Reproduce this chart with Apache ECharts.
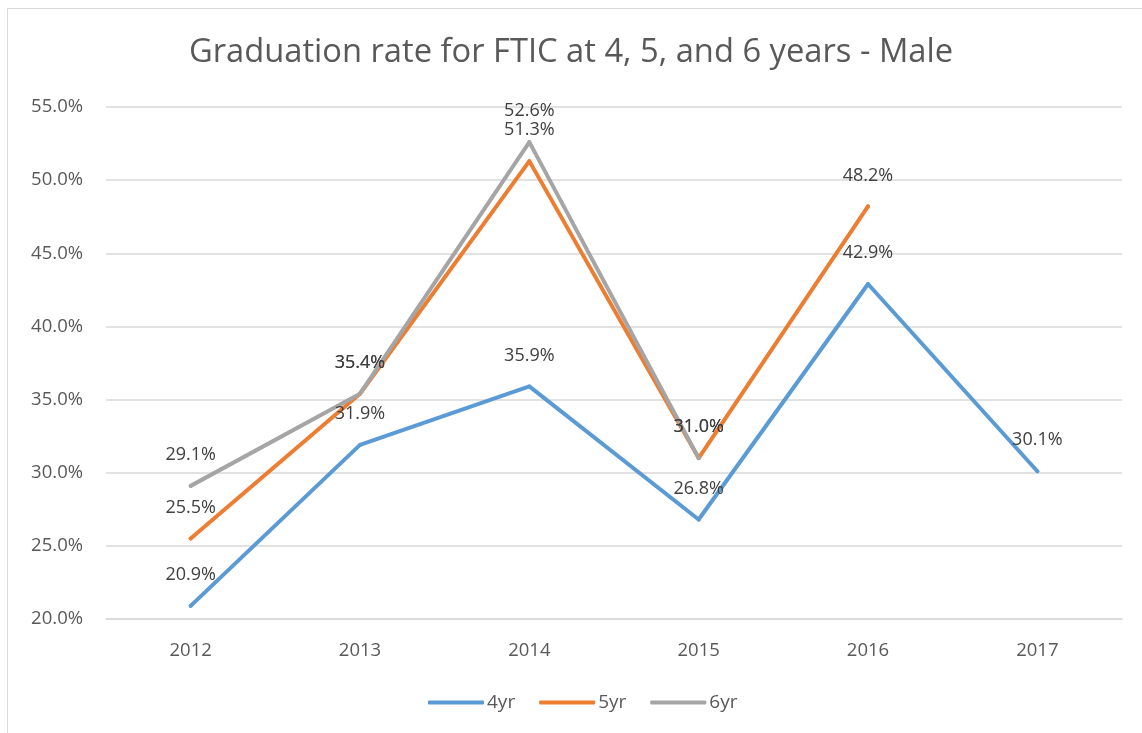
<!DOCTYPE html>
<html><head><meta charset="utf-8">
<script src="https://cdn.jsdelivr.net/npm/echarts@6/dist/echarts.min.js"></script>
<style>
html,body{margin:0;padding:0;background:#fff;}
#frame{position:absolute;left:7px;top:8px;width:1200px;height:800px;border:1px solid #d9d9d9;box-sizing:border-box;}
#c{position:absolute;left:0;top:0;width:1142px;height:733px;}
</style></head>
<body>
<div id="frame"></div>
<div id="c"></div>
<script>
const titleText = 'Graduation rate for FTIC at 4, 5, and 6 years - Male';
const categories = ['2012','2013','2014','2015','2016','2017'];
const seriesNames = ['4yr','5yr','6yr'];
const rate4yr = [20.9, 31.9, 35.9, 26.8, 42.9, 30.1];
const rate5yr = [25.5, 35.4, 51.3, 31.0, 48.2, null];
const rate6yr = [29.1, 35.4, 52.6, 31.0, null, null];
const colors = ['#5B9BD5','#ED7D31','#A5A5A5'];
const font = '"Open Sans", "Noto Sans", sans-serif';

const chart = echarts.init(document.getElementById('c'), null, {renderer:'canvas'});
function mk(name, data, color){
  return {
    name, type:'line', data, color,
    symbol:'circle', symbolSize:4, showSymbol:true, showAllSymbol:true, connectNulls:false,
    itemStyle:{color},
    lineStyle:{width:4, color, cap:'round', join:'round'},
    label:{show:true, position:'top', distance:20, color:'#404040', fontSize:18, fontFamily:font,
      formatter:p => p.value==null ? '' : p.value.toFixed(1)+'%'},
    labelLayout:{hideOverlap:false},
    emphasis:{disabled:true}, animation:false
  };
}
chart.setOption({
  animation:false,
  title:{text:titleText, left:'center', top:31, textStyle:{fontFamily:font, fontSize:32.7, fontWeight:'normal', color:'#595959'}},
  legend:{bottom:16, left:423, itemWidth:56, itemHeight:4, itemGap:24, icon:'roundRect',
    textStyle:{fontFamily:font, fontSize:19, color:'#595959', padding:[0,0,0,-2]}, data:seriesNames},
  grid:{left:106, right:20, top:107, bottom:114},
  xAxis:{type:'category', data:categories, boundaryGap:true,
    axisLine:{show:true, lineStyle:{color:'#d9d9d9', width:1.5}}, axisTick:{show:false},
    axisLabel:{fontFamily:font, fontSize:18.5, color:'#595959', margin:22}},
  yAxis:{type:'value', min:20, max:55, interval:5,
    axisLine:{show:false}, axisTick:{show:false},
    splitLine:{lineStyle:{color:'#d9d9d9', width:1.5}},
    axisLabel:{fontFamily:font, fontSize:18.5, color:'#595959', margin:23, formatter:v=>v.toFixed(1)+'%'}},
  series:[mk(seriesNames[0], rate4yr, colors[0]), mk(seriesNames[1], rate5yr, colors[1]), mk(seriesNames[2], rate6yr, colors[2])]
});
</script>
</body></html>
